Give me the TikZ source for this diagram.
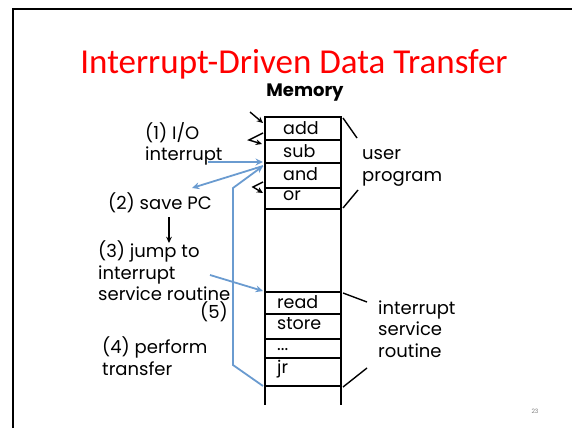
\documentclass[tikz,border=0pt]{standalone}
\usepackage{fontspec}
\setmainfont{Poppins}
\newfontfamily\titlefont{Carlito}
\usetikzlibrary{arrows.meta,positioning}
\definecolor{flowblue}{RGB}{106,155,208}
\definecolor{titlered}{RGB}{255,0,0}

\begin{document}
\begin{tikzpicture} [x=1pt,y=-1pt,{cell/.style={anchor=west,inner sep=0pt,font=\fontsize{17.5}{19}\selectfont}},{lbl/.style={anchor=west,inner sep=0pt,align=left,font=\fontsize{18}{21.5}\selectfont}},{memline/.style={black,line width=1.8pt}},{flow/.style={color=flowblue,line width=1.8pt,-{Stealth[length=2.6mm,width=2.4mm]}}},{jump/.style={black,line width=1.4pt,-{Stealth[length=2.2mm,width=2mm]}}}]
		\useasboundingbox (0,0) rectangle (572,428);
		%%slide frame
		\draw [black,line width=2.2pt] (13,428) -- (13,9) -- (572,9);
		\node at (535,411) [font=\fontsize{6}{7}\selectfont,text=gray] (page) {23};
		%%title
		\node at (294,64) [font=\titlefont\fontsize{35}{38}\selectfont,text=titlered] (title) {Interrupt-Driven Data Transfer};
		\node at (305,93) [font=\bfseries\fontsize{18}{20}\selectfont] (memory) {Memory};
		
		%%memory column
		\draw [memline] (265,116) -- (265,405);
		\draw [memline] (341,116) -- (341,405);
		\foreach \y in {117,140,163,188,209,292,314,339,358,386}
			\draw [memline] (265,\y) -- (340,\y);
		%%cell contents
		\node at (283,128) [cell] (add) {add};
		\node at (283,151) [cell] (sub) {sub};
		\node at (283,174) [cell] (and) {and};
		\node at (283,196) [cell] (or) {or};
		\node at (277,302) [cell] (read) {read};
		\node at (277,324) [cell] (store) {store};
		\node at (277,350) [cell] (dots) {...};
		\node at (277,369) [cell] (jr) {jr};
		
		%%braces
		\draw [black,line width=1.4pt] (343,118) -- (357,138);
		\draw [black,line width=1.4pt] (358,190) -- (343,208);
		\draw [black,line width=1.4pt] (343,293) -- (367,302);
		\draw [black,line width=1.4pt] (367,368) -- (343,387);
		\node at (362,168) [lbl] (user) {user\\program};
		\node at (378,329) [lbl] (isr) {interrupt\\service\\routine};
		
		%%step labels
		\node at (145,144) [lbl] (io) {(1) I/O\\interrupt};
		\node at (108,203) [lbl] (savepc) {(2) save PC};
		\node at (98,271) [lbl] (jumpto) {(3) jump to\\interrupt\\service routine};
		\node at (200,312) [lbl] (ret) {(5)};
		\node at (102,356) [lbl] (perform) {(4) perform\\transfer};
		
		%%arrow ends
		\coordinate (irqout) at (208,162);
		\coordinate (andtop) at (263,162);
		\coordinate (andtop2) at (263,166);
		\coordinate (pcin) at (192,188);
		\coordinate (jmpout) at (210,275);
		\coordinate (readtop) at (263,291);
		\coordinate (jrbot) at (263,386);
		\coordinate (retlow) at (233,365);
		\coordinate (rethigh) at (233,188);
		\coordinate (stepa) at (169,217);
		\coordinate (stepb) at (169,243);
		
		%%control flow
		\draw [flow] (irqout) -- (andtop);
		\draw [flow] (andtop2) -- (pcin);
		\draw [flow] (jrbot) -- (retlow) -- (rethigh) -- (andtop2);
		\draw [flow] (jmpout) -- (readtop);
		\draw [jump] (stepa) -- (stepb);
		
		%%program counter marks
		\draw [jump] (250,112) -- (263,123);
		\draw [jump] (263,133) -- (249,140) -- (262,144);
		\draw [jump] (263,182) -- (253,187) -- (263,193);
	\end{tikzpicture}
\end{document}
